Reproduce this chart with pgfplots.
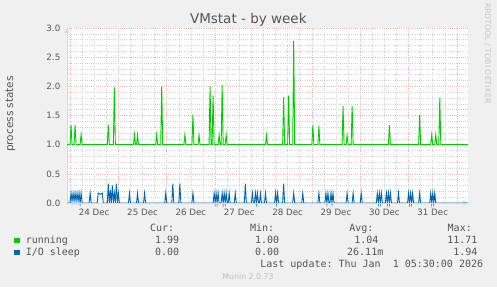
\documentclass[border=0pt]{standalone}
\usepackage{fontspec}
\setmainfont{DejaVu Sans}
\setmonofont{DejaVu Sans Mono}
\usepackage{pgfplots}
\pgfplotsset{compat=1.18}
\usetikzlibrary{arrows.meta}
\definecolor{bg}{HTML}{F0F0F0}
\definecolor{fontc}{HTML}{555555}
\definecolor{axisc}{HTML}{CFD6F8}
\definecolor{running}{HTML}{00CC00}
\definecolor{iosleep}{HTML}{0066B3}
\definecolor{mgrid}{HTML}{EDB4B4}
\definecolor{mingrid}{HTML}{D2D2D2}
\begin{document}
\begin{tikzpicture}[x=1pt,y=1pt]
\path[use as bounding box, fill=bg] (0,0) rectangle (497,287);
\begin{axis}[
  at={(67pt,84pt)}, anchor=south west,
  scale only axis, width=401pt, height=175pt,
  xmin=-1.5, xmax=197.5, ymin=0, ymax=3,
  clip=false,
  axis background/.style={fill=white},
  axis lines=left,
  axis line style={draw=axisc, line width=1pt, -{Triangle[length=5pt,width=5pt]}},
  xtick={0,24,...,192}, xticklabels={},
  minor x tick num=3,
  ytick={0,0.5,...,3},
  minor y tick num=4,
  xmajorgrids, xminorgrids, ymajorgrids, yminorgrids,
  major grid style={draw=mgrid, line width=0.6pt, dash pattern=on 1pt off 1.2pt},
  minor grid style={draw=mingrid, line width=0.6pt, dash pattern=on 1pt off 1.2pt},
  major tick length=0pt, minor tick length=0pt,
  extra x ticks={12,36,...,180},
  extra x tick labels={24 Dec,25 Dec,26 Dec,27 Dec,28 Dec,29 Dec,30 Dec,31 Dec},
  extra x tick style={grid=none},
  /pgf/number format/assume math mode=true,
  tick label style={font=\fontsize{8.7}{10}\selectfont, text=fontc, inner sep=0pt},
  yticklabel style={xshift=-6.5pt, /pgf/number format/fixed, /pgf/number format/fixed zerofill, /pgf/number format/precision=1},
  xticklabel style={yshift=-6pt},
]
\addplot[running, line width=0.9pt] coordinates {
(-1.5,1) (0,1) (0.5,1.34) (1,1) (2,1) (2.5,1.34) (3,1) (5,1) (5.5,1.17) (6,1)
(18.5,1) (19,1.34) (19.5,1) (21.5,1) (22,1.98) (22.5,1)
(31.5,1) (32,1.17) (32.5,1) (33,1) (33.5,1.17) (34,1)
(42.5,1) (43,1.17) (43.5,1) (45,1) (45.5,2.0) (46,1)
(56.5,1) (57,1.17) (57.5,1) (60.5,1) (61,1.51) (61.5,1) (63.5,1) (64,1.17) (64.5,1)
(69,1) (69.5,2.0) (70,1) (70.5,1) (71,1.84) (71.5,1) (73.5,1) (74,1.17) (74.5,1)
(75,1) (75.5,2.02) (76,1) (77,1) (77.5,1.17) (78,1)
(97,1) (97.5,1.16) (98,1)
(105.5,1) (106,1.82) (106.5,1) (108,1) (108.5,1.84) (109,1) (110.5,1) (111,2.78) (111.5,1)
(120,1) (120.5,1.33) (121,1) (123,1) (123.5,1.32) (124,1)
(135,1) (135.5,1.66) (136,1) (137,1) (137.5,1.16) (138,1) (139.5,1) (140,1.66) (140.5,1)
(158,1) (158.5,1.34) (159,1)
(173,1) (173.5,1.51) (174,1)
(179,1) (179.5,1.17) (180,1) (181,1) (181.5,1.17) (182,1) (183,1) (183.5,1.80) (184,1)
(197.5,1)
};
\addplot[iosleep, line width=0.9pt] coordinates {
(-1.5,0) (0,0) (0.5,0.17) (1,0.03) (1.5,0.17) (2,0.03) (2.5,0.17) (3,0.03) (3.5,0.17) (4,0.03) (4.5,0.17) (5,0) (5.5,0.17) (6,0)
(9.5,0) (10,0.17) (10.5,0)
(13.5,0) (14,0.17) (15,0.15) (16,0.17) (16.5,0)
(18.5,0) (19,0.33) (19.5,0) (20,0.22) (20.5,0) (21,0.30) (21.5,0) (22,0.17) (22.5,0) (23,0.33) (23.5,0) (24,0.17) (24.5,0)
(29,0) (29.5,0.17) (30,0)
(33,0) (33.5,0.17) (34,0)
(36.5,0) (37,0.17) (37.5,0)
(47,0) (47.5,0.17) (48,0)
(50.5,0) (51,0.33) (51.5,0)
(54,0) (54.5,0.33) (55,0)
(60.5,0) (61,0.17) (61.5,0)
(71,0) (71.5,0.17) (72,0) (72.5,0.17) (73,0) (73.5,0.17) (74,0)
(75,0) (75.5,0.17) (76,0) (76.5,0.17) (77,0) (77.5,0.17) (78,0)
(78.5,0) (79,0.17) (79.5,0)
(81.5,0) (82,0.17) (82.5,0)
(86.5,0) (87,0.33) (87.5,0)
(90,0) (90.5,0.17) (91,0) (91.5,0) (92,0.17) (92.5,0) (93,0.17) (93.5,0) (94,0) (94.5,0.17) (95,0)
(96.5,0) (97,0.17) (97.5,0)
(101.5,0) (102,0.17) (102.5,0) (103,0.17) (103.5,0)
(105.5,0) (106,0.33) (106.5,0)
(110.5,0) (111,0.17) (111.5,0)
(115,0) (115.5,0.17) (116,0)
(123,0) (123.5,0.17) (124,0)
(126.5,0) (127,0.17) (127.5,0) (128,0.17) (128.5,0)
(129,0) (129.5,0.17) (130,0) (130.5,0.17) (131,0)
(137,0) (137.5,0.17) (138,0)
(140,0) (140.5,0.17) (141,0)
(144,0) (144.5,0.17) (145,0)
(152,0) (152.5,0.17) (153,0) (153.5,0.17) (154,0) (154.5,0.17) (155,0)
(156.5,0) (157,0.17) (157.5,0) (158,0.17) (158.5,0) (159,0.17) (159.5,0)
(162.5,0) (163,0.17) (163.5,0)
(167.5,0) (168,0.17) (168.5,0) (169,0.17) (169.5,0) (170,0.17) (170.5,0)
(173,0) (173.5,0.17) (174,0)
(178.5,0) (179,0.17) (179.5,0) (180,0.17) (180.5,0) (181,0.17) (181.5,0)
(197.5,0)
};
\draw[axisc, line width=1pt] (axis cs:-1.5,0) -- (axis cs:197.5,0);
\end{axis}
\node[font=\fontsize{13.5}{16}\selectfont, text=fontc, anchor=base, inner sep=0] at (248.3,263) {VMstat - by week};
\node[font=\fontsize{10.5}{12}\selectfont, text=fontc, rotate=90, anchor=base, inner sep=0] at (13.2,173) {process states};
\node[font=\fontsize{7.8}{9}\selectfont, text=black!22, rotate=-90, anchor=base, inner sep=0] at (485,233.7) {RRDTOOL / TOBI OETIKER};
\begin{scope}[every node/.style={font=\ttfamily\fontsize{10}{12}\selectfont, text=fontc, inner sep=0}]
\node[anchor=base east] at (174.3,55.7) {Cur:};
\node[anchor=base east] at (274.3,55.7) {Min:};
\node[anchor=base east] at (373.7,55.7) {Avg:};
\node[anchor=base east] at (472,55.7) {Max:};
\fill[running] (14.2,44) rectangle (19.6,49.4);
\node[anchor=base west] at (25.6,43.7) {running};
\node[anchor=base east] at (179.3,43.7) {1.99};
\node[anchor=base east] at (279.3,43.7) {1.00};
\node[anchor=base east] at (378.7,43.7) {1.04};
\node[anchor=base east] at (477.7,43.7) {11.71};
\fill[iosleep] (14.2,32) rectangle (19.6,37.4);
\node[anchor=base west] at (25.6,31.3) {I/O sleep};
\node[anchor=base east] at (179.3,31.3) {0.00};
\node[anchor=base east] at (279.3,31.3) {0.00};
\node[anchor=base east] at (383.5,31.3) {26.11m};
\node[anchor=base east] at (477.7,31.3) {1.94};
\node[anchor=base east] at (483.3,19.7) {Last update: Thu Jan\ \ 1 05:30:00 2026};
\end{scope}
\node[font=\fontsize{7.8}{9}\selectfont, text=black!25, anchor=base, inner sep=0] at (248,7.7) {Munin 2.0.73};
\end{tikzpicture}
\end{document}
